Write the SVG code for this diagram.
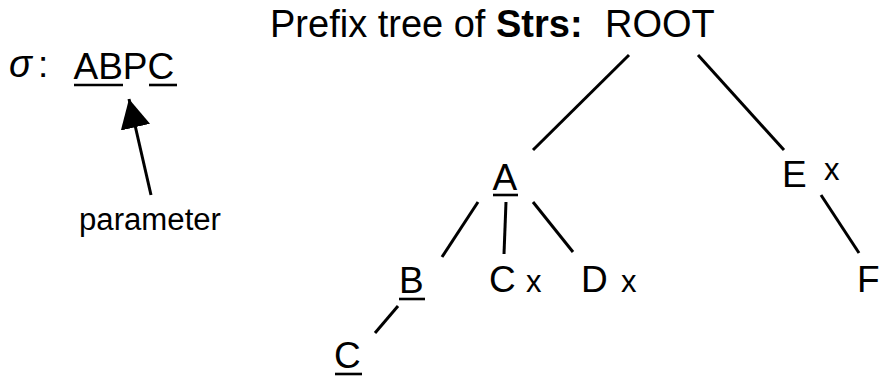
<svg xmlns="http://www.w3.org/2000/svg" width="879" height="377" viewBox="0 0 879 377">
<style>
text{font-family:"Liberation Sans",Arial,sans-serif;fill:#000}
.t{font-size:37px}
.h{font-size:38px}
.lbl{font-size:31px}
.ul{stroke:#000;stroke-width:2.6}
.e{stroke:#000;stroke-width:3;fill:none}
</style>
<defs>
<marker id="ah" markerUnits="userSpaceOnUse" markerWidth="30" markerHeight="30" viewBox="0 0 28 28" refX="27" refY="14" orient="auto">
<path d="M0,0 L27,14 L0,28 Z" fill="#000"/>
</marker>
</defs>
<rect width="879" height="377" fill="#fff"/>
<g id="title"><text class="h" x="270" y="37">Prefix tree of <tspan font-weight="bold">Strs:</tspan></text></g>
<g id="sigma">
<text x="9" y="77" font-family="'DejaVu Serif',serif" font-style="italic" font-size="38">σ</text>
<text class="t" x="38" y="77">:</text>
<text class="t" x="73.5" y="79">ABPC</text>
<line class="ul" x1="74" y1="85" x2="123" y2="85"/>
<line class="ul" x1="149" y1="85" x2="177" y2="85"/>
</g>
<g id="param"><text class="lbl" x="79" y="230" textLength="142" lengthAdjust="spacingAndGlyphs">parameter</text></g>
<g id="root"><text class="h" x="605" y="37">ROOT</text></g>
<g id="nA"><text class="t" x="492.5" y="190">A</text><line class="ul" x1="493" y1="195" x2="518" y2="195"/></g>
<g id="nE"><text class="t" x="782" y="187">E</text><text class="lbl" x="824" y="180">x</text></g>
<g id="nB"><text class="t" x="399" y="293">B</text><line class="ul" x1="399" y1="299" x2="425" y2="299"/></g>
<g id="nC1"><text class="t" x="489" y="292">C</text><text class="lbl" x="526" y="292">x</text></g>
<g id="nD"><text class="t" x="581" y="292">D</text><text class="lbl" x="621" y="292">x</text></g>
<g id="nF"><text class="t" x="857" y="292">F</text></g>
<g id="nC2"><text class="t" x="334" y="368">C</text><line class="ul" x1="335" y1="374" x2="362" y2="374"/></g>
<g id="connectors">
<line class="e" x1="151" y1="195" x2="129" y2="99" marker-end="url(#ah)"/>
<line class="e" x1="629" y1="55" x2="533" y2="150"/>
<line class="e" x1="698" y1="55" x2="784" y2="150"/>
<line class="e" x1="478" y1="202" x2="442" y2="257"/>
<line class="e" x1="506" y1="202" x2="504" y2="254"/>
<line class="e" x1="533" y1="202" x2="573" y2="252"/>
<line class="e" x1="398" y1="306" x2="375" y2="333"/>
<line class="e" x1="821" y1="195" x2="859" y2="253"/>
</g>
</svg>
